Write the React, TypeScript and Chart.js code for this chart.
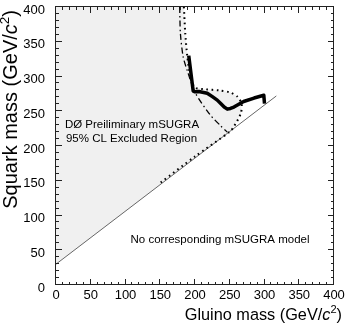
import React, { useEffect, useRef } from "react";
import { Chart, registerables } from "chart.js";

Chart.register(...registerables);

const FONT = "'Liberation Sans', Arial, Helvetica, sans-serif";

// Axis ranges and tick labels
const axisMin = 0;
const axisMax = 400;
const xTickValues = [0, 50, 100, 150, 200, 250, 300, 350, 400];
const yTickValues = [0, 50, 100, 150, 200, 250, 300, 350, 400];
const minorStep = 10;

// Kinematic limit line (no corresponding mSUGRA model below)
const diagonalX = [0, 317];
const diagonalY = [30, 272];

// Dotted contour
const dottedX = [184, 186, 189, 193.5, 200, 215, 235, 251, 261, 267, 266, 256, 250, 200, 150];
const dottedY = [400, 362, 328, 300, 284, 281.6, 280, 277, 271, 261, 247, 228, 220.5, 185, 147];

// Dash-dotted contour
const dashDotX = [178, 179, 183, 188.7, 200.7, 222, 237, 246.5];
const dashDotY = [400, 362, 328, 309, 275.8, 244.6, 229, 220];

// Thick solid contour
const thickX = [191, 197.4, 200, 205.5, 217.6, 225, 232, 237, 242, 246.5, 251, 256, 263, 270, 285, 299, 300];
const thickY = [330, 279, 278, 278.5, 276, 271, 266, 261, 256, 253, 254, 256, 260, 264, 269, 273, 261];

// Excluded (shaded) region outline
const excludedX = [0, 184, 186, 189, 193.5, 200, 215, 235, 251, 261, 267, 266, 256, 250, 0];
const excludedY = [400, 400, 362, 328, 300, 284, 281.6, 280, 277, 271, 261, 247, 228, 220.8, 30];

const toPts = (xs: number[], ys: number[]) => xs.map((x, i) => ({ x, y: ys[i] }));

type Part = { t: string; italic?: boolean; sup?: boolean };

function partFont(p: Part, size: number) {
  const s = p.sup ? size * 0.68 : size;
  return `${p.italic ? "italic " : ""}${s}px ${FONT}`;
}

function richWidth(ctx: CanvasRenderingContext2D, parts: Part[], size: number) {
  let w = 0;
  for (const p of parts) {
    ctx.font = partFont(p, size);
    w += ctx.measureText(p.t).width;
  }
  return w;
}

function drawRich(ctx: CanvasRenderingContext2D, parts: Part[], size: number, x: number, y: number) {
  let cx = x;
  ctx.textBaseline = "alphabetic";
  ctx.textAlign = "left";
  for (const p of parts) {
    ctx.font = partFont(p, size);
    ctx.fillText(p.t, cx, p.sup ? y - size * 0.42 : y);
    cx += ctx.measureText(p.t).width;
  }
}

const xTitle: Part[] = [{ t: "Gluino mass (GeV/" }, { t: "c", italic: true }, { t: "2", sup: true }, { t: ")" }];
const yTitle: Part[] = [{ t: "Squark mass (GeV/" }, { t: "c", italic: true }, { t: "2", sup: true }, { t: ")" }];

const framePlugin = {
  id: "framePlugin",
  afterDraw(chart: any) {
    const ctx: CanvasRenderingContext2D = chart.ctx;
    const { left, right, top, bottom } = chart.chartArea;
    const xs = chart.scales.x;
    const ys = chart.scales.y;
    ctx.save();
    // frame
    ctx.strokeStyle = "#222";
    ctx.lineWidth = 1;
    ctx.strokeRect(left - 0.5, top - 0.5, right - left, bottom - top);
    // ticks (inward on all four sides)
    ctx.beginPath();
    for (let v = axisMin; v <= axisMax; v += minorStep) {
      const major = v % 50 === 0;
      const len = major ? 6 : 3;
      const px = Math.round(xs.getPixelForValue(v)) - 0.5;
      ctx.moveTo(px, bottom);
      ctx.lineTo(px, bottom - len);
      ctx.moveTo(px, top);
      ctx.lineTo(px, top + len);
      const py = Math.round(ys.getPixelForValue(v)) - 0.5;
      ctx.moveTo(left, py);
      ctx.lineTo(left + len, py);
      ctx.moveTo(right, py);
      ctx.lineTo(right - len, py);
    }
    ctx.stroke();

    // annotations
    ctx.fillStyle = "#000";
    ctx.textAlign = "center";
    ctx.textBaseline = "middle";
    ctx.font = `11.5px ${FONT}`;
    ctx.fillText("DØ Preiliminary mSUGRA", 132, 125);
    ctx.fillText("95% CL Excluded Region", 131.5, 139);
    ctx.fillText("No corresponding mSUGRA model", 220, 240);

    // axis titles
    const xs2 = 16.3;
    const wx = richWidth(ctx, xTitle, xs2);
    drawRich(ctx, xTitle, xs2, 342 - wx, 320);

    const ys2 = 20;
    const wy = richWidth(ctx, yTitle, ys2);
    ctx.translate(17, 10);
    ctx.rotate(-Math.PI / 2);
    drawRich(ctx, yTitle, ys2, -wy, 0);
    ctx.restore();
  },
};

export default function App() {
  const ref = useRef<HTMLCanvasElement | null>(null);
  useEffect(() => {
    if (!ref.current) return;
    const chart = new Chart(ref.current, {
      type: "scatter",
      data: {
        datasets: [
          {
            label: "thick",
            data: toPts(thickX, thickY),
            showLine: true,
            borderColor: "#000",
            borderWidth: 3.5,
            pointRadius: 0,
            tension: 0,
            borderJoinStyle: "round",
            fill: false,
          },
          {
            label: "dashdot",
            data: toPts(dashDotX, dashDotY),
            showLine: true,
            borderColor: "#000",
            borderWidth: 1.3,
            borderDash: [6, 3, 1.5, 3],
            pointRadius: 0,
            tension: 0.25,
            fill: false,
          },
          {
            label: "dotted",
            data: toPts(dottedX, dottedY),
            showLine: true,
            borderColor: "#000",
            borderWidth: 2,
            borderDash: [1.6, 3.6],
            pointRadius: 0,
            tension: 0.25,
            fill: false,
          },
          {
            label: "diagonal",
            data: toPts(diagonalX, diagonalY),
            showLine: true,
            borderColor: "#666",
            borderWidth: 1,
            pointRadius: 0,
            tension: 0,
            fill: false,
          },
          {
            label: "excluded",
            data: toPts(excludedX, excludedY),
            showLine: true,
            borderWidth: 0,
            borderColor: "rgba(0,0,0,0)",
            backgroundColor: "#f0f0f0",
            pointRadius: 0,
            tension: 0,
            fill: "shape",
          },
        ],
      },
      options: {
        animation: false,
        responsive: false,
        devicePixelRatio: 1,
        layout: { padding: { left: 0, right: 13, top: 7, bottom: 0 } },
        plugins: { legend: { display: false }, tooltip: { enabled: false } },
        scales: {
          x: {
            type: "linear",
            min: axisMin,
            max: axisMax,
            afterBuildTicks: (s: any) => {
              s.ticks = xTickValues.map((v) => ({ value: v }));
            },
            afterFit: (s: any) => {
              s.height = 42;
              s.paddingLeft = 0;
              s.paddingRight = 0;
              s.paddingTop = 0;
              s.paddingBottom = 0;
            },
            ticks: {
              font: { family: FONT, size: 13 },
              color: "#000",
              padding: 3,
              maxRotation: 0,
              autoSkip: false,
              callback: (v: any) => String(v),
            },
            grid: { display: false, drawTicks: false },
            border: { display: false },
          },
          y: {
            type: "linear",
            min: axisMin,
            max: axisMax,
            afterBuildTicks: (s: any) => {
              s.ticks = yTickValues.map((v) => ({ value: v }));
            },
            afterFit: (s: any) => {
              s.width = 56;
              s.paddingLeft = 0;
              s.paddingRight = 0;
              s.paddingTop = 0;
              s.paddingBottom = 0;
            },
            ticks: {
              font: { family: FONT, size: 13 },
              color: "#000",
              padding: 11,
              labelOffset: 3,
              autoSkip: false,
              callback: (v: any) => String(v),
            },
            grid: { display: false, drawTicks: false },
            border: { display: false },
          },
        },
      },
      plugins: [framePlugin],
    } as any);
    return () => chart.destroy();
  }, []);
  return (
    <div style={{ position: "absolute", left: 0, top: 0, width: 347, height: 327, background: "#fff" }}>
      <canvas ref={ref} width={347} height={327} />
    </div>
  );
}
